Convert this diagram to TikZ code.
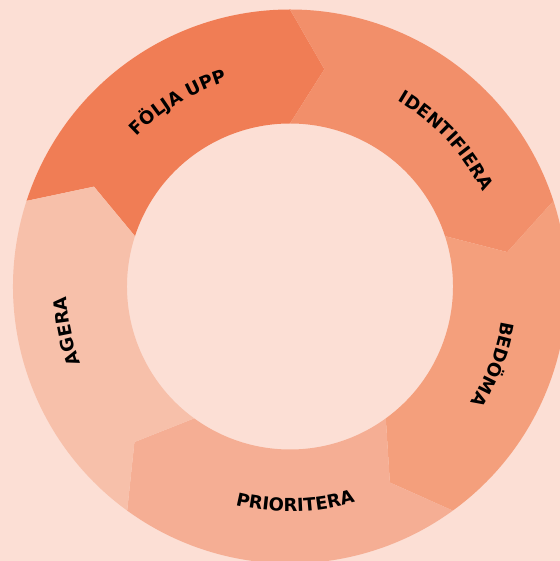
\documentclass[tikz,border=0pt]{standalone}
\usepackage{fontspec}
\setmainfont{DejaVu Sans}
\usetikzlibrary{decorations.text}
\definecolor{bgc}{RGB}{252,223,213}
\definecolor{cfolja}{RGB}{240,125,85}
\definecolor{cident}{RGB}{242,143,106}
\definecolor{cbedoma}{RGB}{244,159,124}
\definecolor{cprio}{RGB}{245,174,148}
\definecolor{cagera}{RGB}{247,192,170}
\newcommand\Ri{163}
\newcommand\Ro{277}
\newcommand\Rm{220}
\newcommand\tipd{9}
\newcommand\ringseg[2]{%
  \fill[#2] (#1:\Ro) -- ({#1-\tipd}:\Rm) -- (#1:\Ri)
    arc[start angle=#1, end angle={#1-72}, radius=\Ri]
    -- ({#1-72-\tipd}:\Rm) -- ({#1-72}:\Ro)
    arc[start angle={#1-72}, end angle=#1, radius=\Ro] -- cycle;}
\newcommand\lblfont{\bfseries\fontsize{18}{18}\selectfont}
\tikzset{ringtext/.style={decorate, decoration={text along path, text align=center, text={|\lblfont|#1}}}}
\begin{document}
\begin{tikzpicture}[x=1bp,y=1bp]
\useasboundingbox (-290,-274.5) rectangle (270,286.5);
\fill[bgc] (-290,-274.5) rectangle (270,286.5);
\clip (-290,-274.5) rectangle (270,286.5);
\ringseg{162}{cfolja}
\ringseg{90}{cident}
\ringseg{18}{cbedoma}
\ringseg{-54}{cprio}
\ringseg{-126}{cagera}
\path[ringtext={FÖLJA UPP}] (151.3:214.4) arc[start angle=151.3, end angle=91.3, radius=214.4];
\path[ringtext={IDENTIFIERA}] (73:214.4) arc[start angle=73, end angle=13, radius=214.4];
\path[ringtext={BEDÖMA}] (9:214.4) arc[start angle=9, end angle=-51, radius=214.4];
\path[ringtext={PRIORITERA}] (-118.6:225.2) arc[start angle=-118.6, end angle=-58.6, radius=225.2];
\path[ringtext={AGERA}] (-138.7:223.4) arc[start angle=-138.7, end angle=-198.7, radius=223.4];
\end{tikzpicture}
\end{document}
